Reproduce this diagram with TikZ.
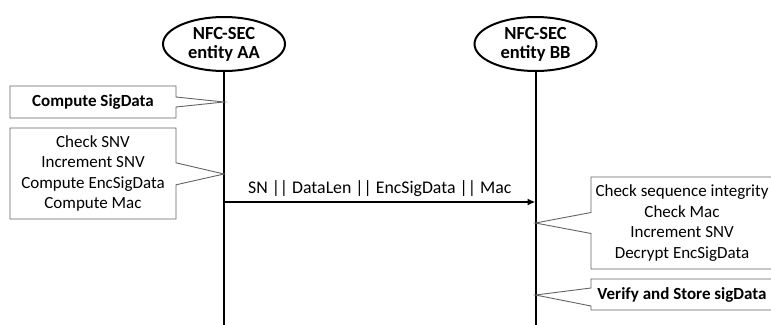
\documentclass[tikz,border=0pt]{standalone}
\usepackage{fontspec}
\setmainfont{Carlito}
\usepackage{xcolor}
\usetikzlibrary{positioning, calc, arrows.meta, shapes.geometric, shapes.callouts}
\definecolor{boxgray}{RGB}{100,100,100}
\tikzset{
    entity/.style={
        ellipse, draw=black, line width=2pt, minimum width=122pt, minimum height=54pt,
        inner sep=0pt, align=center, font=\bfseries\fontsize{18.5}{19}\selectfont
    },
    lifeline/.style={
        line width=2pt, black
    },
    stepnote/.style={
        rectangle callout, draw=boxgray, line width=0.9pt, fill=white,
        inner sep=0pt, align=center, font=\fontsize{17}{20.5}\selectfont
    },
    msg/.style={
        -{Latex[length=8pt,width=7pt]}, line width=2pt
    }
}
\begin{document}
\begin{tikzpicture}[x=1pt, y=-1pt]
        \useasboundingbox (0,0) rectangle (771,324);

        % --- ENTITIES ---
        \node[entity] (entityA) at (224,44) {NFC-SEC\\entity AA};
        \node[entity] (entityB) at (535.5,44) {NFC-SEC\\entity BB};

        % Lifelines
        \coordinate (endA) at (entityA |- 0,330);
        \coordinate (endB) at (entityB |- 0,330);
        \draw[lifeline] (entityA.south) -- (endA);
        \draw[lifeline] (entityB.south) -- (endB);

        % Pointer tips on the lifelines
        \coordinate (tipA1) at (entityA |- 0,102);
        \coordinate (tipA2) at (entityA |- 0,174);
        \coordinate (tipB1) at (entityB |- 0,223);
        \coordinate (tipB2) at (entityB |- 0,295);

        % --- STEPS OF AA ---
        \node[stepnote, minimum width=166pt, minimum height=32pt, callout pointer width=10pt,
              callout absolute pointer=(tipA1)] (boxA1) at (93,102) {\bfseries Compute SigData};
        \node[stepnote, minimum width=166pt, minimum height=91pt, callout pointer width=22pt,
              callout absolute pointer=(tipA2)] (boxA2) at (93,173.5)
              {Check SNV\\Increment SNV\\Compute EncSigData\\Compute Mac};

        % --- MESSAGE ---
        \coordinate (msgA) at (entityA |- 0,202);
        \coordinate (msgB) at (entityB |- 0,202);
        \draw[msg] (msgA) -- node[above=1pt, font=\fontsize{17.8}{19}\selectfont] (msgLabel)
              {SN || DataLen || EncSigData || Mac} (msgB);

        % --- STEPS OF BB ---
        \node[stepnote, minimum width=182pt, minimum height=92pt, callout pointer width=21pt,
              callout absolute pointer=(tipB1)] (boxB1) at (682,223)
              {Check sequence integrity\\Check Mac\\Increment SNV\\Decrypt EncSigData};
        \node[stepnote, minimum width=182pt, minimum height=31pt, callout pointer width=18pt,
              callout absolute pointer=(tipB2)] (boxB2) at (682,294.5) {\bfseries Verify and Store sigData};

    \end{tikzpicture}
\end{document}
